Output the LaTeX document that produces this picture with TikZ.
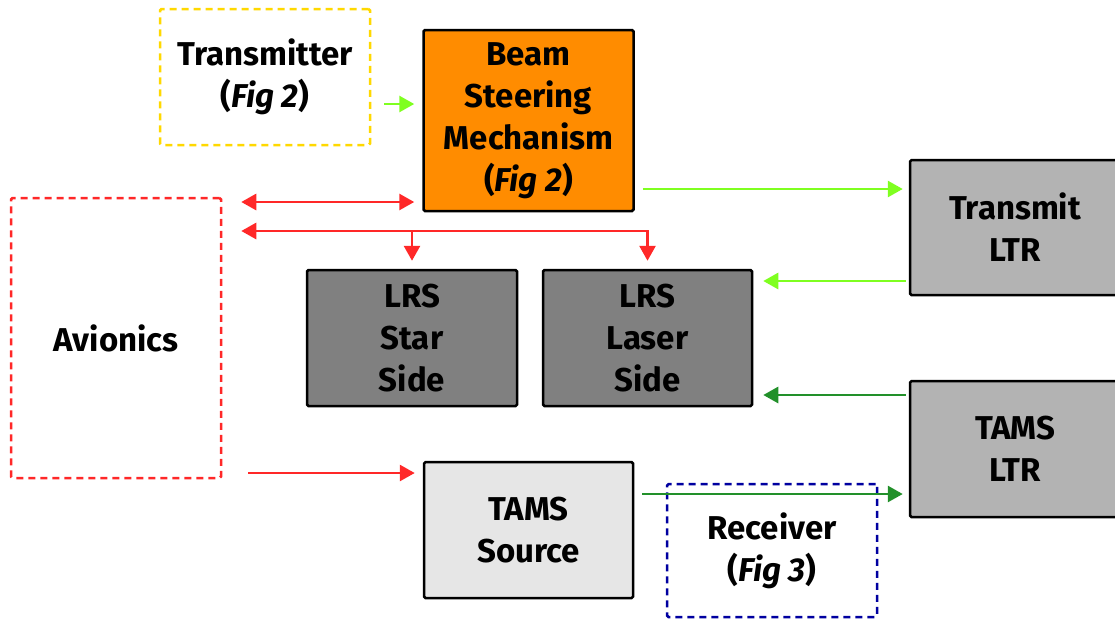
\documentclass[tikz,border=0pt]{standalone}
\usepackage{fontspec}
\setmainfont{Fira Sans}
\usetikzlibrary{arrows.meta}

\definecolor{bsmorange}{HTML}{FF8C00}
\definecolor{ltrgray}{HTML}{B3B3B3}
\definecolor{lrsgray}{HTML}{808080}
\definecolor{srcgray}{HTML}{E6E6E6}
\definecolor{litegreen}{HTML}{7FFF20}
\definecolor{darkgreen}{HTML}{22902A}
\definecolor{sigred}{HTML}{FF2828}
\definecolor{txyellow}{HTML}{FFD800}
\definecolor{rxblue}{HTML}{0000A0}

\tikzset{
    box/.style={draw=black, line width=2.5pt, rounded corners=1.5pt, minimum width=210pt, minimum height=136pt, align=center, font=\fontsize{33}{42}\selectfont\bfseries},
    dbox/.style={box, dash pattern=on 7pt off 5pt},
    link/.style={line width=2.8pt, -{Triangle[length=15pt,width=16pt]}},
}

\begin{document}
\begin{tikzpicture}[x=1pt,y=-1pt]
    \useasboundingbox (0,0) rectangle (1115,619);
    % blocks
    \node[dbox, draw=txyellow] (tx) at (265,77) {Transmitter\\(\textit{Fig 2})};
    \node[box, fill=bsmorange, minimum height=181pt] (bsm) at (528.5,120.5) {Beam\\Steering\\Mechanism\\(\textit{Fig 2})};
    \node[dbox, draw=sigred, minimum height=280pt] (avi) at (116,338) {Avionics};
    \node[box, fill=ltrgray, minimum height=135pt] (tltr) at (1015,227.5) {Transmit\\LTR};
    \node[box, fill=lrsgray] (star) at (412,338) {LRS\\Star\\Side};
    \node[box, fill=lrsgray, minimum width=209pt] (laser) at (647.5,338) {LRS\\Laser\\Side};
    \node[box, fill=ltrgray] (tamsltr) at (1015,449) {TAMS\\LTR};
    \node[box, fill=srcgray, minimum width=209pt] (src) at (528.5,530) {TAMS\\Source};
    \node[dbox, draw=rxblue, minimum height=133pt] (rx) at (772,550.5) {Receiver\\(\textit{Fig 3})};
    % red links
    \draw[link, sigred, {Triangle[length=15pt,width=16pt]}-{Triangle[length=15pt,width=16pt]}, shorten <=19pt, shorten >=8pt] (avi.east |- 0,202) -- (bsm.west |- 0,202);
    \draw[link, sigred, {Triangle[length=15pt,width=16pt]}-{Triangle[length=15pt,width=16pt]}, shorten <=19pt, shorten >=8pt] (avi.east |- 0,231) -| (laser.north);
    \draw[link, sigred, shorten >=8pt] (star.north |- 0,231) -- (star.north);
    \draw[link, sigred, shorten <=26pt, shorten >=8pt] (avi.east |- 0,473) -- (src.west |- 0,473);
    % light green links
    \draw[link, litegreen, shorten <=13pt, shorten >=8pt] (tx.east |- 0,104) -- (bsm.west |- 0,104);
    \draw[link, litegreen, shorten <=8pt, shorten >=6pt] (bsm.east |- 0,189) -- (tltr.west |- 0,189);
    \draw[link, litegreen, shorten <=3pt, shorten >=10pt] (tltr.west |- 0,281) -- (laser.east |- 0,281);
    % dark green links
    \draw[link, darkgreen, shorten <=3pt, shorten >=10pt] (tamsltr.west |- 0,395) -- (laser.east |- 0,395);
    \draw[link, darkgreen, shorten <=8pt, shorten >=6pt] (src.east |- 0,494) -- (tamsltr.west |- 0,494);
\end{tikzpicture}
\end{document}
